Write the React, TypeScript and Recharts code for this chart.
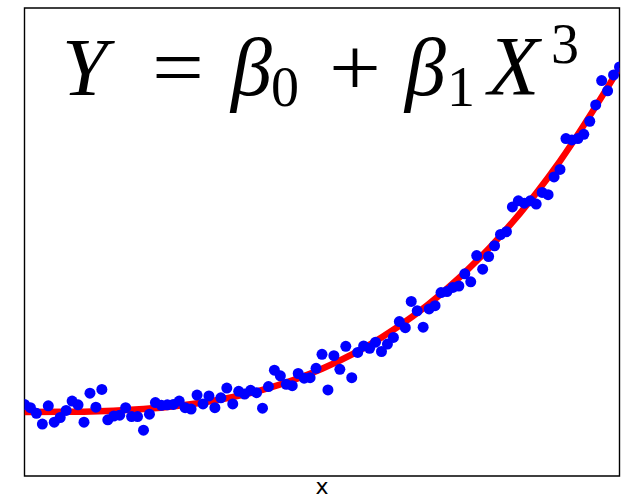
import { ComposedChart, Scatter, Line, XAxis, YAxis, ReferenceArea } from 'recharts'

// observed responses, one per x step (x = 0 … 100)
const pointY = [
  1.53, 1.46, 1.34, 1.11, 1.5, 1.15, 1.25, 1.4, 1.6, 1.52,
  1.15, 1.77, 1.47, 1.85, 1.2, 1.28, 1.3, 1.46, 1.27, 1.27,
  0.98, 1.32, 1.57, 1.51, 1.52, 1.53, 1.6, 1.46, 1.43, 1.73,
  1.54, 1.71, 1.46, 1.67, 1.88, 1.54, 1.81, 1.75, 1.83, 1.78,
  1.45, 1.91, 2.26, 2.14, 1.96, 1.93, 2.19, 2.09, 2.1, 2.3,
  2.6, 1.84, 2.57, 2.28, 2.77, 2.1, 2.64, 2.78, 2.73, 2.86,
  2.66, 2.82, 2.96, 3.3, 3.17, 3.73, 3.53, 3.18, 3.57, 3.64,
  3.92, 3.94, 4.03, 4.06, 4.32, 4.15, 4.71, 4.42, 4.69, 4.92,
  5.16, 5.22, 5.75, 5.88, 5.83, 5.88, 5.81, 6.06, 6.01, 6.39,
  6.55, 7.21, 7.18, 7.21, 7.3, 7.58, 7.93, 8.45, 8.23, 8.57,
  8.74,
]

// fitted cubic curve sampled along x
const fitX = [0, 10, 20, 30, 40, 50, 60, 70, 80, 90, 100]
const fitY = [1.37, 1.375, 1.43, 1.57, 1.84, 2.29, 2.96, 3.89, 5.13, 6.73, 8.72]

const points = pointY.map((y, i) => ({ x: i, y }))
const fit = fitX.map((x, i) => ({ x, y: fitY[i] }))

const W = 622
const H = 500

const Dot = (p: any) => <circle cx={p.cx} cy={p.cy} r={5.5} fill="#0000ff" />

export default function App() {
  const serif = 'Liberation Serif, DejaVu Serif, serif'
  return (
    <div style={{ position: 'absolute', left: 0, top: 0, width: W, height: H, background: '#fff' }}>
      <ComposedChart width={W} height={H} margin={{ top: 8, right: 2.5, bottom: 24, left: 24.5 }}>
        <XAxis dataKey="x" type="number" domain={[0, 100]} hide allowDataOverflow />
        <YAxis type="number" domain={[0, 10]} hide allowDataOverflow />
        <ReferenceArea x1={0} x2={100} y1={0} y2={10} fill="none" stroke="#000" strokeWidth={1.4} fillOpacity={0} />
        <Scatter data={points} dataKey="y" shape={Dot} isAnimationActive={false} />
        <Line
          data={fit}
          dataKey="y"
          type="monotone"
          stroke="#ff0000"
          strokeWidth={6.5}
          dot={false}
          activeDot={false}
          isAnimationActive={false}
        />
      </ComposedChart>
      <svg width={W} height={H} style={{ position: 'absolute', left: 0, top: 0, pointerEvents: 'none' }}>
        <g fontFamily={serif} fill="#000">
          <text x={62} y={95} fontSize={82} fontStyle="italic">Y</text>
          <text x={152} y={95} fontSize={82} textLength={52} lengthAdjust="spacingAndGlyphs">=</text>
          <text x={231} y={95} fontSize={82} fontStyle="italic">β</text>
          <text x={271} y={106} fontSize={56}>0</text>
          <text x={329} y={95} fontSize={82} textLength={52} lengthAdjust="spacingAndGlyphs">+</text>
          <text x={405} y={95} fontSize={82} fontStyle="italic">β</text>
          <text x={447} y={106} fontSize={56}>1</text>
          <text x={488} y={95} fontSize={84} fontStyle="italic">X</text>
          <text x={551} y={63} fontSize={56}>3</text>
        </g>
        <text x={322} y={494} fontSize={22} textAnchor="middle" fontFamily="DejaVu Sans, sans-serif" fill="#000">
          x
        </text>
      </svg>
    </div>
  )
}
